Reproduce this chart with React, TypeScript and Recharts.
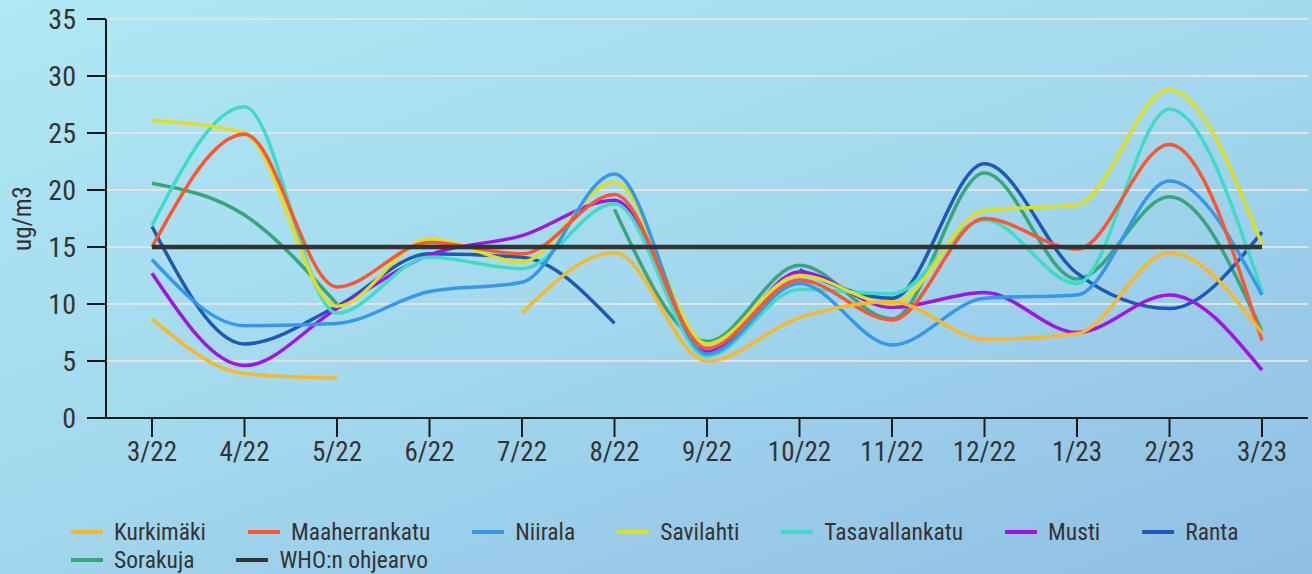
import { CartesianGrid, Legend, Line, LineChart, XAxis, YAxis } from "recharts";

const months = ["3/22", "4/22", "5/22", "6/22", "7/22", "8/22", "9/22", "10/22", "11/22", "12/22", "1/23", "2/23", "3/23"];
const yTicks = [0, 5, 10, 15, 20, 25, 30, 35];

const kurkimaki = [8.7, 3.9, 3.5, null, 9.2, 14.5, 5.0, 8.8, 10.2, 6.9, 7.4, 14.5, 7.5];
const maaherrankatu = [15.0, 24.9, 11.5, 15.4, 14.4, 19.6, 6.1, 12.1, 8.6, 17.5, 14.8, 24.0, 6.8];
const niirala = [13.9, 8.1, 8.3, 11.1, 11.9, 21.4, 5.6, 11.8, 6.4, 10.5, 10.8, 20.8, 10.8];
const savilahti = [26.1, 25.0, 9.8, 15.7, 13.7, 20.7, 6.5, 12.5, 10.0, 18.2, 18.7, 28.8, 15.2];
const tasavallankatu = [16.9, 27.3, 9.2, 14.1, 13.1, 18.8, 5.4, 11.3, 10.9, 17.4, 11.8, 27.1, 11.1];
const musti = [12.7, 4.6, 9.6, 14.3, 16.0, 19.1, 5.8, 12.8, 9.7, 11.0, 7.5, 10.8, 4.2];
const ranta = [16.8, 6.5, 9.8, 14.4, 14.1, 8.3, null, 13.0, 10.5, 22.3, 12.7, 9.6, 16.3];
const sorakuja = [20.6, 17.8, 10.0, null, null, 18.3, 6.7, 13.4, 8.7, 21.5, 12.2, 19.4, 7.6];
const whoLimit = [15, 15, 15, 15, 15, 15, 15, 15, 15, 15, 15, 15, 15];

const series = [
  { key: "kurkimaki", name: "Kurkimäki", color: "#f9b72d", values: kurkimaki },
  { key: "maaherrankatu", name: "Maaherrankatu", color: "#fd5632", values: maaherrankatu },
  { key: "niirala", name: "Niirala", color: "#3598ea", values: niirala },
  { key: "savilahti", name: "Savilahti", color: "#dede22", values: savilahti },
  { key: "tasavallankatu", name: "Tasavallankatu", color: "#3edcc6", values: tasavallankatu },
  { key: "musti", name: "Musti", color: "#a115e4", values: musti },
  { key: "ranta", name: "Ranta", color: "#1f59b6", values: ranta },
  { key: "sorakuja", name: "Sorakuja", color: "#37a67c", values: sorakuja },
  { key: "who", name: "WHO:n ohjearvo", color: "#333333", values: whoLimit }
];

const data = months.map((month, i) => {
  const row: Record<string, string | number | null> = { month };
  series.forEach((s) => {
    row[s.key] = s.values[i];
  });
  return row;
});

const font = '"Roboto Condensed", "Liberation Sans Narrow", "DejaVu Sans Condensed", Roboto, sans-serif';

const LegendItem = ({ name, color }: { name: string; color: string }) => (
  <span style={{ display: "inline-flex", alignItems: "center", marginRight: 42 }}>
    <span style={{ display: "inline-block", width: 32, height: 4, background: color, marginRight: 11 }} />
    <span>{name}</span>
  </span>
);

const ChartLegend = () => (
  <div style={{ paddingLeft: 71, fontSize: 23.5, color: "#333", lineHeight: "28px", textAlign: "left" }}>
    <div style={{ display: "flex" }}>
      {series.slice(0, 7).map((s) => (
        <LegendItem key={s.key} name={s.name} color={s.color} />
      ))}
    </div>
    <div style={{ display: "flex" }}>
      {series.slice(7).map((s) => (
        <LegendItem key={s.key} name={s.name} color={s.color} />
      ))}
    </div>
  </div>
);

const YLabel = (props: any) => {
  const vb = props.viewBox || { x: 0, y: 19, height: 399 };
  const x = vb.x + 22;
  const y = vb.y + vb.height / 2;
  return (
    <text x={x} y={y} transform={`rotate(-90 ${x} ${y})`} textAnchor="middle" dominantBaseline="central" fill="#333" fontSize={25}>
      ug/m3
    </text>
  );
};

export default function App() {
  const drawOrder = [...series.slice(0, 8)].reverse();
  return (
    <div
      style={{
        position: "absolute",
        left: 0,
        top: 0,
        width: 1312,
        height: 574,
        fontFamily: font,
        background: "linear-gradient(160deg, #b0e8f5 0%, #a3d8ee 50%, #8fbee3 100%)"
      }}
    >
      <LineChart width={1312} height={574} data={data} margin={{ top: 19, right: 4, bottom: 0, left: 0 }}>
        <CartesianGrid horizontal vertical={false} stroke="#dde3e6" strokeWidth={2} />
        <XAxis
          dataKey="month"
          padding={{ left: 46, right: 46 }}
          height={100}
          tickSize={19}
          tickMargin={5}
          interval={0}
          axisLine={{ stroke: "#1a1a1a", strokeWidth: 2 }}
          tickLine={{ stroke: "#1a1a1a", strokeWidth: 2 }}
          tick={{ fill: "#333", fontSize: 27 }}
        />
        <YAxis
          width={106}
          domain={[0, 35]}
          ticks={yTicks}
          tickSize={19}
          tickMargin={11}
          interval={0}
          axisLine={{ stroke: "#1a1a1a", strokeWidth: 2 }}
          tickLine={{ stroke: "#1a1a1a", strokeWidth: 2 }}
          tick={{ fill: "#333", fontSize: 28 }}
          label={{ content: YLabel }}
        />
        <Legend verticalAlign="bottom" content={() => <ChartLegend />} wrapperStyle={{ left: 0, width: 1312, height: 56 }} />
        {drawOrder.map((s) => (
          <Line
            key={s.key}
            dataKey={s.key}
            name={s.name}
            type="monotone"
            stroke={s.color}
            strokeWidth={3.5}
            dot={false}
            activeDot={false}
            isAnimationActive={false}
          />
        ))}
        <Line
          dataKey="who"
          name="WHO:n ohjearvo"
          type="linear"
          stroke="#333333"
          strokeWidth={4.5}
          dot={false}
          activeDot={false}
          isAnimationActive={false}
        />
      </LineChart>
    </div>
  );
}
